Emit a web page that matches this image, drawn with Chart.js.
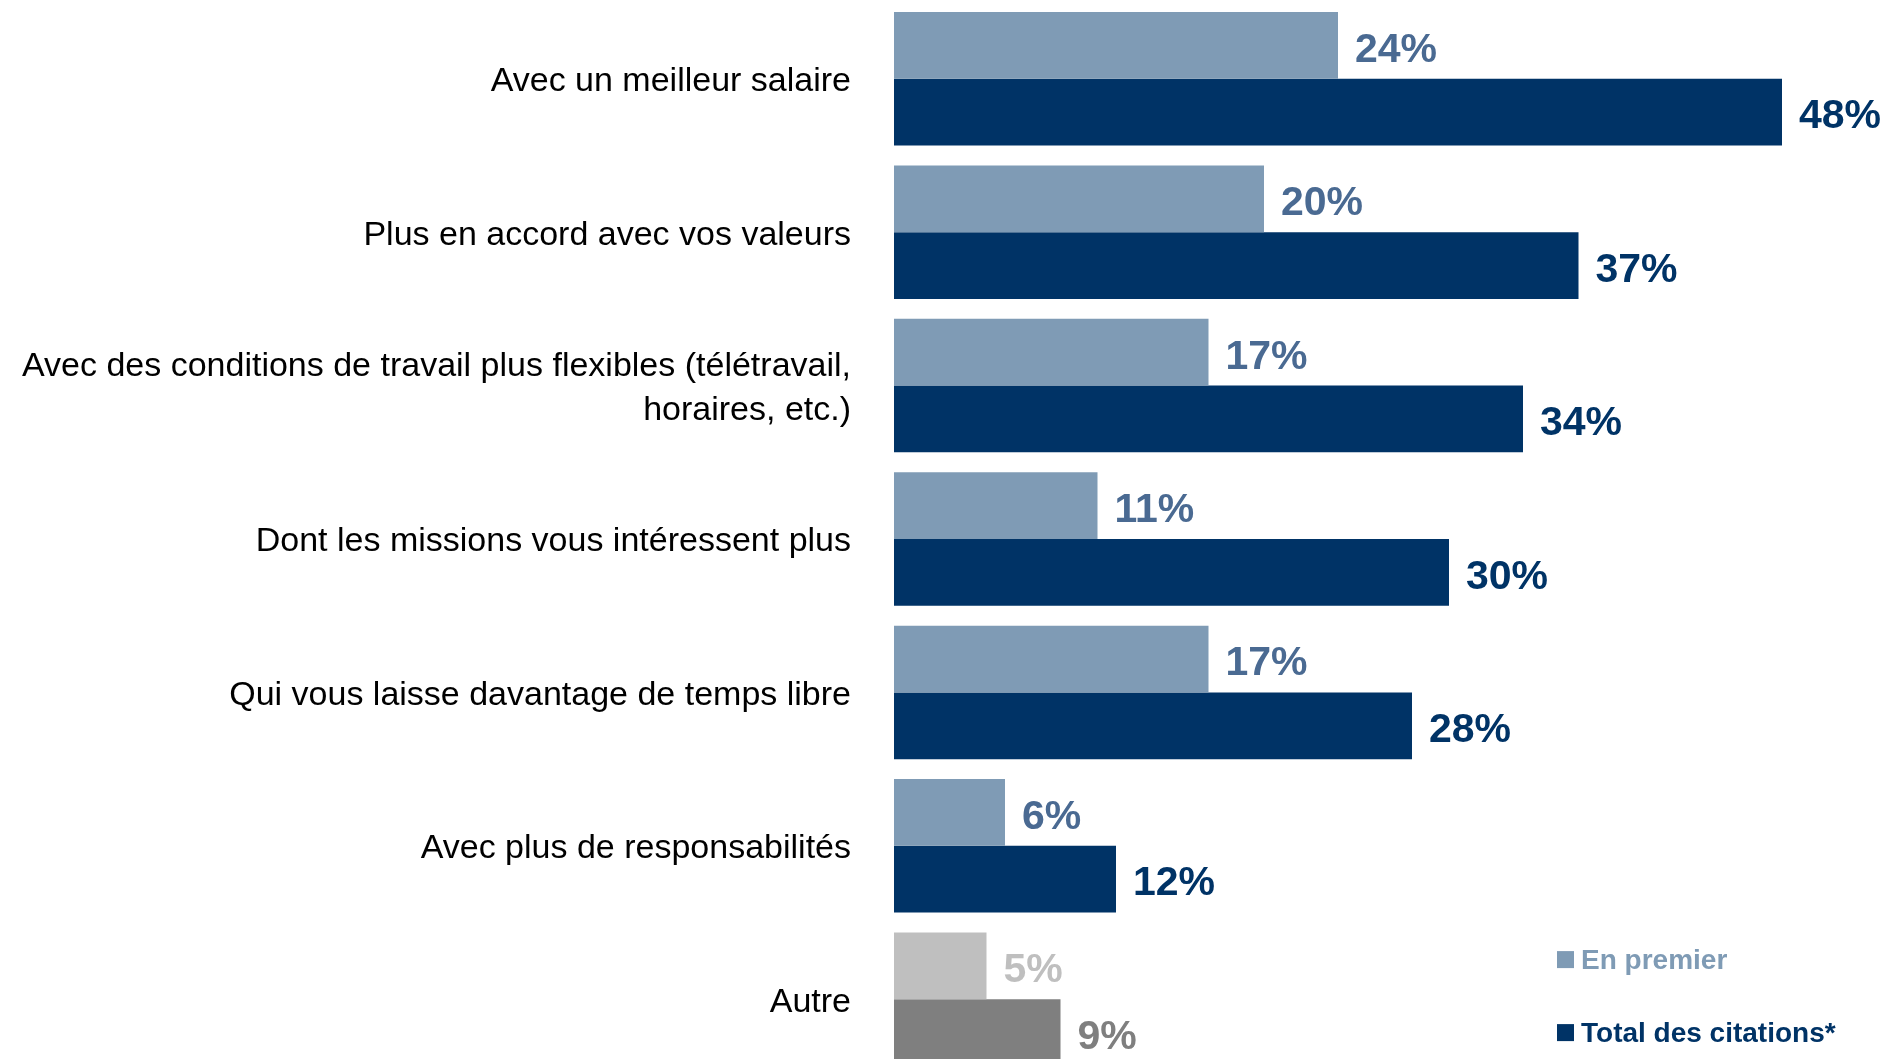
<!DOCTYPE html>
<html>
<head>
<meta charset="utf-8">
<script src="https://cdn.jsdelivr.net/npm/chart.js@4/dist/chart.umd.min.js"></script>
<style>
  html, body { margin: 0; padding: 0; background: #fff; overflow: hidden; }
  /* chart runs past the bottom edge in the original, so the canvas is taller than the window */
  #wrap { width: 1885px; height: 1118px; margin-top: -20px; position: relative; }
</style>
</head>
<body>
<div id="wrap"><canvas id="myChart"></canvas></div>
<script>
const categories = [
  "Avec un meilleur salaire",
  "Plus en accord avec vos valeurs",
  ["Avec des conditions de travail plus flexibles (télétravail,", "horaires, etc.)"],
  "Dont les missions vous intéressent plus",
  "Qui vous laisse davantage de temps libre",
  "Avec plus de responsabilités",
  "Autre"
];
const enPremier = [24, 20, 17, 11, 17, 6, 5];
const totalCitations = [48, 37, 34, 30, 28, 12, 9];
const seriesNames = ["En premier", "Total des citations*"];

const lightBar = "#7f9bb5", darkBar = "#003366";
const lightText = "#4a6a92", darkText = "#003366";
const greyLight = "#bfbfbf", greyDark = "#7f7f7f";
const lastIdx = categories.length - 1;

const fontName = "'Liberation Sans', Arial, sans-serif";

// value labels next to each bar
const valueLabels = {
  id: "valueLabels",
  afterDatasetsDraw(chart) {
    const ctx = chart.ctx;
    ctx.save();
    ctx.font = "bold 41px " + fontName;
    ctx.textAlign = "left";
    ctx.textBaseline = "middle";
    chart.data.datasets.forEach((ds, di) => {
      chart.getDatasetMeta(di).data.forEach((bar, i) => {
        ctx.fillStyle = ds.labelColors[i];
        ctx.fillText(ds.data[i] + "%", bar.x + 17, bar.y + 5);
      });
    });
    ctx.restore();
  }
};

// legend in the lower right corner
const cornerLegend = {
  id: "cornerLegend",
  afterDraw(chart) {
    const ctx = chart.ctx;
    const area = chart.chartArea;
    const x = 1557;
    const rows = [area.top + 958, area.top + 1031];
    ctx.save();
    ctx.font = "bold 28px " + fontName;
    ctx.textBaseline = "middle";
    chart.data.datasets.forEach((ds, di) => {
      ctx.fillStyle = ds.legendColor;
      ctx.fillRect(x, rows[di] - 9, 17, 17);
      ctx.fillText(ds.label, x + 24, rows[di] + 1);
    });
    ctx.restore();
  }
};

const ctx = document.getElementById("myChart").getContext("2d");
const chart = new Chart(ctx, {
  type: "bar",
  data: {
    labels: categories,
    datasets: [
      {
        label: seriesNames[0],
        data: enPremier,
        backgroundColor: enPremier.map((v, i) => i === lastIdx ? greyLight : lightBar),
        labelColors: enPremier.map((v, i) => i === lastIdx ? greyLight : lightText),
        legendColor: lightBar,
        categoryPercentage: 0.87,
        barPercentage: 1.0
      },
      {
        label: seriesNames[1],
        data: totalCitations,
        backgroundColor: totalCitations.map((v, i) => i === lastIdx ? greyDark : darkBar),
        labelColors: totalCitations.map((v, i) => i === lastIdx ? greyDark : darkText),
        legendColor: darkBar,
        categoryPercentage: 0.87,
        barPercentage: 1.0
      }
    ]
  },
  options: {
    indexAxis: "y",
    responsive: true,
    maintainAspectRatio: false,
    animation: false,
    layout: { padding: { top: 0, right: 66, left: 0, bottom: 0 } },
    plugins: {
      legend: { display: false },
      tooltip: { enabled: false }
    },
    scales: {
      x: {
        display: false,
        min: 0,
        max: 50
      },
      y: {
        // tickLength gives the gap between labels and bars without adding vertical padding
        grid: { display: false, drawTicks: true, tickLength: 43 },
        border: { display: false },
        ticks: {
          color: "#000",
          padding: 0,
          labelOffset: 3,
          font: { family: fontName, size: 34, lineHeight: 1.3 }
        },
        afterFit(scale) { scale.width = 894; }
      }
    }
  },
  plugins: [valueLabels, cornerLegend]
});
</script>
</body>
</html>
